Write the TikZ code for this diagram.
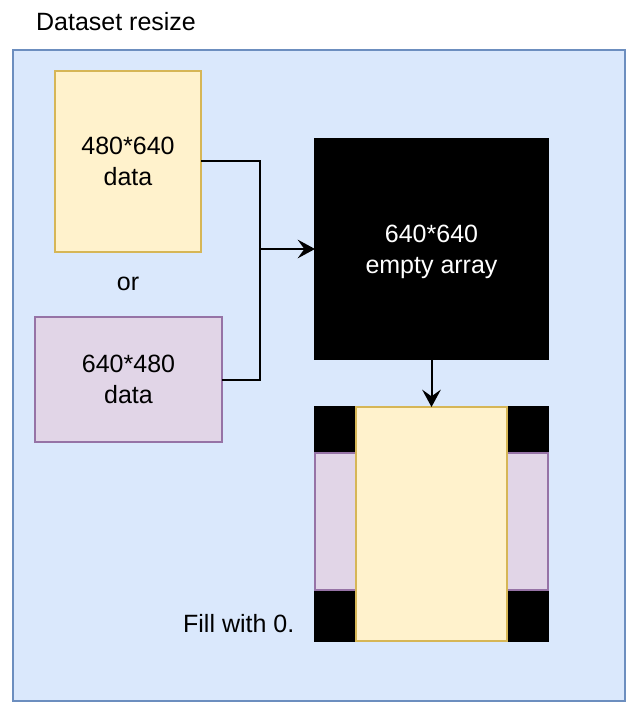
\documentclass[tikz,border=0pt]{standalone}
\usepackage{fontspec}
\setmainfont{Liberation Sans}
\usetikzlibrary{arrows.meta}
\definecolor{bluefill}{HTML}{DAE8FC}
\definecolor{bluedraw}{HTML}{6C8EBF}
\definecolor{yelfill}{HTML}{FFF2CC}
\definecolor{yeldraw}{HTML}{D6B656}
\definecolor{purfill}{HTML}{E1D5E7}
\definecolor{purdraw}{HTML}{9673A6}
\begin{document}
\begin{tikzpicture}[x=0.75pt,y=-0.75pt,
  every node/.style={font=\fontsize{18.75}{23.5}\selectfont, align=center},
  rbox/.style={rectangle, inner sep=0pt, outer sep=0pt, line width=1.5pt},
  bluebox/.style={rbox, fill=bluefill, draw=bluedraw},
  yelbox/.style={rbox, fill=yelfill, draw=yeldraw},
  purbox/.style={rbox, fill=purfill, draw=purdraw},
  blkbox/.style={rbox, fill=black, draw=black, text=white},
  conn/.style={line width=1.5pt, draw=black},
  tip/.style={-{Stealth[length=13pt,width=14pt,inset=5pt]}}]
\useasboundingbox (0,0) rectangle (639,716);
\node[bluebox, minimum width=459pt, minimum height=488.25pt] (outer) at (319,375.5) {};
\node (title) at (116,22) {Dataset resize};
\node[yelbox, minimum width=109.5pt, minimum height=135.75pt] (yel) at (128,161.5) {480*640\\data};
\node (or) at (128,284) {or};
\node[purbox, minimum width=140.25pt, minimum height=93.75pt] (pur) at (128.5,379.5) {640*480\\data};
\node[blkbox, minimum width=174.75pt, minimum height=165pt] (blk) at (431.5,249) {};
\node[text=white] (blktext) at (431.5,252) {640*640\\empty array};
\node[blkbox, minimum width=174.75pt, minimum height=175.5pt] (cblk) at (431.5,524) {};
\node[purbox, minimum width=174.75pt, minimum height=102.75pt] (cpur) at (431.5,521.5) {};
\node[yelbox, minimum width=113.25pt, minimum height=175.5pt] (cyel) at (431.5,524) {};
\node[anchor=east] (fill) at (299,624) {Fill with 0.};
\coordinate (j) at (260,249);
\draw[conn] (yel.east) -| (j);
\draw[conn] (pur.east) -| (j);
\draw[conn, tip] (j) -- (blk.west);
\draw[conn, tip] (blk.south) -- (cyel.north);
\end{tikzpicture}
\end{document}
